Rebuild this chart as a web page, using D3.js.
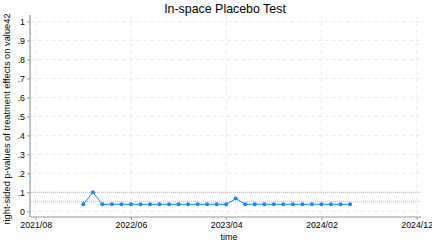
<!DOCTYPE html>
<html lang="en">
<head>
	<meta charset="UTF-8">
	<title>in-space placebo</title>
	<style>
		body { margin: 0; background: #fff; }
		text { font-family: "Liberation Sans", Arial, sans-serif; fill: #000; }
	</style>
</head>
<body>
	<svg id="chart" width="432" height="244"></svg>
<script src="https://cdn.jsdelivr.net/npm/d3@7/dist/d3.min.js"></script>
<script>
	// months since 2021/08 for each point, and p-values
	let months = ["2022/01","2022/02","2022/03","2022/04","2022/05","2022/06","2022/07","2022/08","2022/09","2022/10","2022/11","2022/12",
		"2023/01","2023/02","2023/03","2023/04","2023/05","2023/06","2023/07","2023/08","2023/09","2023/10","2023/11","2023/12",
		"2024/01","2024/02","2024/03","2024/04","2024/05"];
	let pvalues = [0.037,0.1,0.037,0.037,0.037,0.037,0.037,0.037,0.037,0.037,0.037,0.037,
		0.037,0.037,0.037,0.037,0.067,0.037,0.037,0.037,0.037,0.037,0.037,0.037,
		0.037,0.037,0.037,0.037,0.037];
	let xTicks = ["2021/08","2022/06","2023/04","2024/02","2024/12"];
	let yTicks = [0,0.1,0.2,0.3,0.4,0.5,0.6,0.7,0.8,0.9,1];
	let refLines = [0.1,0.05];

	let monthIndex = s => {
		let p = s.split("/");
		return (+p[0] - 2021) * 12 + (+p[1] - 8);
	};

	let svg = d3.select("#chart");
	let x = d3.scaleLinear().domain([0, 40]).range([35.7, 416.7]);
	let y = d3.scaleLinear().domain([0, 1]).range([211.3, 21.5]);
	let blue = "#1a85ff";

	// grid
	svg.append("g").selectAll("line").data(yTicks).enter().append("line")
		.attr("x1", 31).attr("x2", 421)
		.attr("y1", d => y(d)).attr("y2", d => y(d))
		.attr("stroke", "#e6e6e6").attr("stroke-width", 0.8).attr("stroke-dasharray", "4,3");
	svg.append("g").selectAll("line").data(xTicks).enter().append("line")
		.attr("x1", d => x(monthIndex(d))).attr("x2", d => x(monthIndex(d)))
		.attr("y1", 15).attr("y2", 216)
		.attr("stroke", "#e6e6e6").attr("stroke-width", 0.8).attr("stroke-dasharray", "4,3");

	// reference lines
	svg.append("g").selectAll("line").data(refLines).enter().append("line")
		.attr("x1", 31).attr("x2", 421)
		.attr("y1", d => y(d)).attr("y2", d => y(d))
		.attr("stroke", "#aaa").attr("stroke-width", 0.8).attr("stroke-dasharray", "1,1");

	// axes
	let yAxis = d3.axisLeft(y).tickValues(yTicks).tickSize(3).tickPadding(2)
		.tickFormat(d => d === 0 ? "0" : d === 1 ? "1" : d3.format(".1f")(d).replace(/^0/, ""));
	let ga = svg.append("g").attr("transform", "translate(30,0)").call(yAxis);
	let xAxis = d3.axisBottom(x).tickValues(xTicks.map(monthIndex)).tickSize(3).tickPadding(2)
		.tickFormat((d, i) => xTicks[i]);
	let gb = svg.append("g").attr("transform", "translate(0,217)").call(xAxis);
	ga.select(".domain").attr("d", "M0,15V217");
	gb.select(".domain").attr("d", "M30,0H421");
	[ga, gb].forEach(g => {
		g.selectAll(".domain").attr("stroke", "#999").attr("stroke-width", 1.2);
		g.selectAll(".tick line").attr("stroke", "#999");
		g.selectAll("text").attr("font-size", 8.8).attr("font-family", "Liberation Sans, Arial, sans-serif").attr("fill", "#000");
	});

	// series
	let pts = months.map((m, i) => ({ m: monthIndex(m), p: pvalues[i] }));
	svg.append("path").datum(pts)
		.attr("fill", "none").attr("stroke", blue).attr("stroke-width", 1)
		.attr("d", d3.line().x(d => x(d.m)).y(d => y(d.p)));
	svg.append("g").selectAll("circle").data(pts).enter().append("circle")
		.attr("cx", d => x(d.m)).attr("cy", d => y(d.p)).attr("r", 2)
		.attr("fill", blue);

	// titles
	svg.append("text").attr("x", 225).attr("y", 13).attr("text-anchor", "middle")
		.attr("font-size", 12.4).text("In-space Placebo Test");
	svg.append("text").attr("x", 229).attr("y", 240).attr("text-anchor", "middle")
		.attr("font-size", 9).text("time");
	svg.append("text").attr("transform", "translate(10,119) rotate(-90)").attr("text-anchor", "middle")
		.attr("font-size", 9.3).text("right-sided p-values of treatment effects on value42");
</script>
</body>
</html>
